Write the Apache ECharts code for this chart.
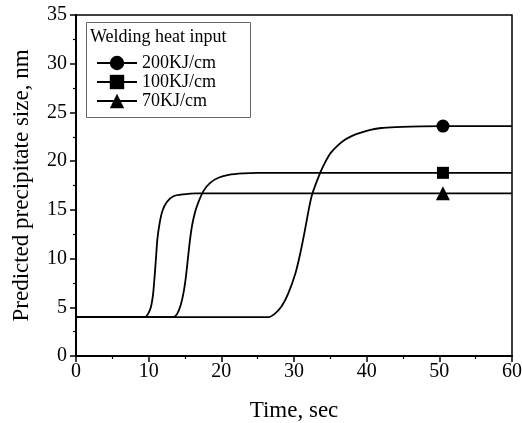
<!DOCTYPE html>
<html><head><meta charset="utf-8">
<script src="https://cdn.jsdelivr.net/npm/echarts@6/dist/echarts.min.js"></script>
<style>html,body{margin:0;padding:0;background:#fff}#c{width:522px;height:423px}</style>
</head><body><div id="c"></div>
<script>
const legendTitle = 'Welding heat input';
const seriesNames = ['200KJ/cm', '100KJ/cm', '70KJ/cm'];
const seriesSymbols = ['circle', 'rect', 'triangle'];
const symbolSizes = [13, 12, 14];
const markerTime = 50.5;
const xAxisName = 'Time, sec';
const yAxisName = 'Predicted precipitate size, nm';

const time200 = [0, 26.5, 27.3, 28.3, 29.2, 30.2, 30.85, 31.5, 32.1, 32.5, 33.6, 34.3, 35.0, 36.0, 37.0, 38.0, 39.1, 40.5, 42.0, 44.0, 46.0, 50.5, 60];
const size200 = [4.0, 4.0, 4.3, 5.1, 6.4, 8.5, 10.5, 12.9, 15.3, 16.6, 18.8, 19.9, 20.8, 21.6, 22.2, 22.6, 22.9, 23.2, 23.4, 23.5, 23.55, 23.6, 23.6];

const time100 = [0, 13.4, 13.9, 14.4, 14.8, 15.1, 15.4, 15.7, 16.0, 16.4, 16.9, 17.6, 18.5, 19.6, 21.0, 23.0, 25.0, 50.5, 60];
const size100 = [4.0, 4.0, 4.3, 5.2, 6.5, 8.0, 10.0, 12.0, 13.5, 14.8, 15.9, 17.0, 17.8, 18.3, 18.6, 18.75, 18.8, 18.8, 18.8];

const time70 = [0, 9.5, 9.9, 10.3, 10.6, 10.8, 11.0, 11.2, 11.5, 11.9, 12.5, 13.4, 14.8, 16.5, 50.5, 60];
const size70 = [4.0, 4.0, 4.3, 5.0, 6.3, 8.0, 10.0, 12.0, 13.6, 14.9, 15.8, 16.4, 16.6, 16.7, 16.7, 16.7];

const times = [time200, time100, time70];
const sizes = [size200, size100, size70];

const FONT = '"Liberation Serif", "Times New Roman", serif';

function buildData(t, s) {
  return t.map((x, i) => x === markerTime
    ? { value: [x, s[i]] }
    : { value: [x, s[i]], symbol: 'none' });
}

const chart = echarts.init(document.getElementById('c'), null, { renderer: 'canvas' });
chart.setOption({
  animation: false,
  backgroundColor: '#fff',
  grid: { left: 76, right: 10, top: 15, bottom: 67, outerBoundsMode: 'none', containLabel: false, show: true, borderColor: '#000', borderWidth: 1.5, backgroundColor: 'transparent' },
  graphic: [
    { type: 'rect', shape: { x: 86.5, y: 22.5, width: 164, height: 95 }, style: { fill: '#fff', stroke: '#666', lineWidth: 1 }, z: 5 },
    { type: 'text', left: 90, top: 28, style: { text: legendTitle, font: '18px ' + FONT, fill: '#000' }, z: 6 }
  ],
  legend: {
    show: true,
    orient: 'vertical',
    left: 96,
    top: 54,
    itemWidth: 40,
    itemHeight: 18,
    itemGap: 1,
    padding: 0,
    z: 10,
    data: seriesNames,
    textStyle: { fontFamily: FONT, fontSize: 18, color: '#000' }
  },
  xAxis: {
    type: 'value', min: 0, max: 60, interval: 10,
    name: xAxisName, nameLocation: 'middle', nameGap: 43,
    nameTextStyle: { fontFamily: FONT, fontSize: 23, color: '#000' },
    axisLine: { onZero: false, lineStyle: { color: '#000', width: 2 } },
    axisTick: { show: true, length: 6, lineStyle: { color: '#000', width: 1.5 } },
    minorTick: { show: true, splitNumber: 2, length: 3, lineStyle: { color: '#000', width: 1.2 } },
    axisLabel: { fontFamily: FONT, fontSize: 20, color: '#000', margin: 6 },
    splitLine: { show: false }
  },
  yAxis: {
    type: 'value', min: 0, max: 35, interval: 5,
    name: yAxisName, nameLocation: 'middle', nameGap: 43,
    nameTextStyle: { fontFamily: FONT, fontSize: 23, color: '#000' },
    axisLine: { onZero: false, lineStyle: { color: '#000', width: 2 } },
    axisTick: { show: true, length: 6, lineStyle: { color: '#000', width: 1.5 } },
    minorTick: { show: true, splitNumber: 2, length: 3, lineStyle: { color: '#000', width: 1.2 } },
    axisLabel: { fontFamily: FONT, fontSize: 20, color: '#000', margin: 9 },
    splitLine: { show: false }
  },
  series: seriesNames.map((name, k) => ({
    name: name,
    type: 'line',
    data: buildData(times[k], sizes[k]),
    symbol: seriesSymbols[k],
    symbolSize: symbolSizes[k],
    showSymbol: true,
    showAllSymbol: true,
    smooth: 0.25,
    color: '#000',
    lineStyle: { color: '#000', width: 1.8 },
    itemStyle: { color: '#000', borderWidth: 0 },
    z: 3
  }))
});
</script>
</body></html>
